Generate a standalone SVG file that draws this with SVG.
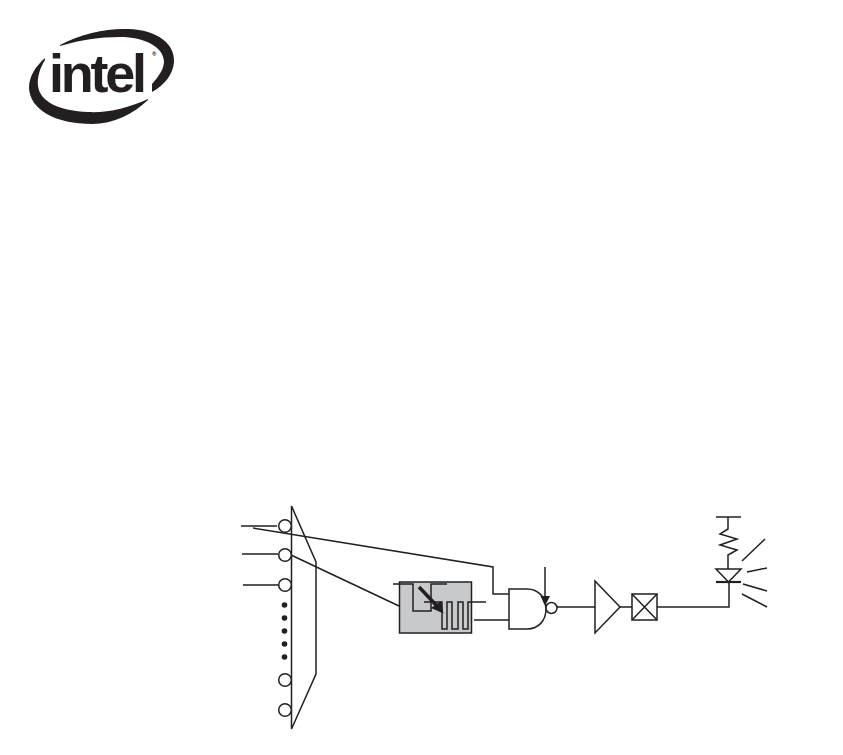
<svg xmlns="http://www.w3.org/2000/svg" width="843" height="755" viewBox="0 0 843 755">
<style>
.l{fill:none;stroke:#231f20;stroke-width:1.5}
.f{fill:#fff;stroke:#231f20;stroke-width:1.5}
.d{fill:#231f20}
.logo{font-family:"Liberation Sans",Arial,sans-serif;font-weight:700;fill:#231f20}
</style>
<rect width="843" height="755" fill="#fff"/>
<g id="logo">
<path class="d" d="M60 45C82 33 108 28 128 29C158 30 175 44 174 62C173 74 165 85 152 92L152 84C159 76 164 69 164 61C163 47 145 37 120 37C100 37 80 40 60 46Z"/>
<path class="d" d="M45 58C36 66 29 76 29 88C30 110 56 124 92 124C114 124 133 114 148 100L148 99C128 108 108 113 88 112C60 111 40 102 38 86C37 77 40 68 45 60Z"/>
<text class="logo" x="49" y="92" font-size="54" textLength="98" lengthAdjust="spacing">intel</text>
<text class="logo" x="152" y="56" font-size="6" font-weight="400">®</text>
</g>
<g id="connectors">
<path class="l" d="M241 526H277M242 554H278M243 585H279"/>
<path class="l" d="M253 528L493 567V594H509"/>
<path class="l" d="M291 555L399 606"/>
<path class="l" d="M474 620H509M557 607H595M620 607H632M657 607H729V582"/>
<path class="l" d="M728 517V529L720 534L737 539L720 545L737 550L728 555V569"/>
<path class="l" d="M716 517H741"/>
<path class="l" d="M742 561L765 539M747 572L767 568M743 584L767 591M742 594L767 607"/>
</g>
<g id="mux">
<path class="l" d="M291.500 506L316 562V674L291.500 729Z"/>
<circle class="f" cx="285" cy="526" r="6.300"/>
<circle class="f" cx="285" cy="555" r="6.300"/>
<circle class="f" cx="285" cy="585" r="6.300"/>
<circle class="f" cx="285" cy="680" r="6.300"/>
<circle class="f" cx="285" cy="710" r="6.300"/>
<circle class="d" cx="284.500" cy="605" r="2.800"/>
<circle class="d" cx="284.500" cy="618" r="2.800"/>
<circle class="d" cx="284.500" cy="631" r="2.800"/>
<circle class="d" cx="284.500" cy="644" r="2.800"/>
<circle class="d" cx="284.500" cy="657" r="2.800"/>
</g>
<g id="filter">
<rect x="399.500" y="582" width="72" height="51" fill="#c8c9cb" stroke="#231f20" stroke-width="1.500"/>
<path class="l" d="M393 584H413V611H431V584H447"/>
<path class="l" d="M424 602H442V629H447V602H452V629H458V602H463V629H468V602H486"/>
<path d="M419 587L437 606" fill="none" stroke="#231f20" stroke-width="3.500"/>
<path class="d" d="M431 608L441 601L443.500 613.500Z"/>
</g>
<g id="nand">
<path class="f" d="M509 589H527C539 589 546 598 546 609C546 620 539 629 527 629H509Z"/>
<circle class="f" cx="551.500" cy="608" r="5.500"/>
<path class="l" d="M545 567V597"/>
<path class="d" d="M540.500 596H550L545 606Z"/>
</g>
<g id="buffer"><path class="f" d="M595 581L620 607L595 633Z"/></g>
<g id="pad"><rect class="f" x="632" y="594" width="25" height="26"/><path class="l" d="M632 620L657 594M632 594L657 620"/></g>
<g id="led">
<path class="f" d="M716 569H741L728.500 582Z"/>
<path d="M716 582H741" fill="none" stroke="#231f20" stroke-width="2.200"/>
</g>
</svg>
